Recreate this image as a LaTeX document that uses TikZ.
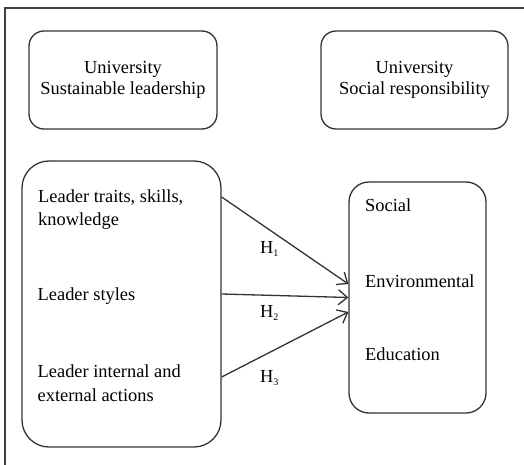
\documentclass[tikz,border=0pt]{standalone}
\usepackage{fontspec}
\setmainfont{Liberation Serif}
\usetikzlibrary{arrows.meta}
\newcommand{\hyp}[1]{H\raisebox{-3pt}{\fontsize{10}{10}\selectfont #1}}

\begin{document}
\begin{tikzpicture}[x=1pt,y=1pt,
        box/.style={draw=black!80,line width=1.3pt,align=center,inner sep=0pt},
        txt/.style={anchor=base west,inner sep=0pt},
        arr/.style={draw=black!80,line width=1.3pt,
            -{Straight Barb[length=9pt,width=15pt,line width=1.3pt]}},
        font=\fontsize{18.4}{21}\selectfont]
\useasboundingbox (0,0) rectangle (524,464);
\clip (0,0) rectangle (524,464);
\draw[black!75,line width=2pt] (5,-20) rectangle (560,456);

% the two headings
\node[box,rounded corners=15pt,minimum width=188,minimum height=98] (usl) at (123,384) {University\\Sustainable leadership};
\node[box,rounded corners=15pt,minimum width=187,minimum height=98] (usr) at (414.5,384) {University\\Social responsibility};

% leadership and responsibility boxes
\node[box,rounded corners=27pt,minimum width=199,minimum height=286] (lbox) at (121.5,160) {};
\node[box,rounded corners=20pt,minimum width=137,minimum height=231] (rbox) at (417.5,166.5) {};

\node[txt] (trait) at (38,261.3) {Leader traits, skills,};
\node[txt] (know) at (38,238.3) {knowledge};
\node[txt] (style) at (37.5,163.3) {Leader styles};
\node[txt] (inter) at (37.5,86.7) {Leader internal and};
\node[txt] (exter) at (37.5,62.3) {external actions};

\node[txt] (soc) at (365,252) {Social};
\node[txt] (env) at (365,177) {Environmental};
\node[txt] (edu) at (365,104) {Education};

\draw[arr] ([yshift=107]lbox.east) -- ([yshift=13.5]rbox.west);
\draw[arr] ([yshift=10]lbox.east) -- (rbox.west);
\draw[arr] ([yshift=-73]lbox.east) -- ([yshift=-14.5]rbox.west);

\node[txt] (h1) at (260,211) {\hyp{1}};
\node[txt] (h2) at (260,147) {\hyp{2}};
\node[txt] (h3) at (260,82) {\hyp{3}};
\end{tikzpicture}
\end{document}
